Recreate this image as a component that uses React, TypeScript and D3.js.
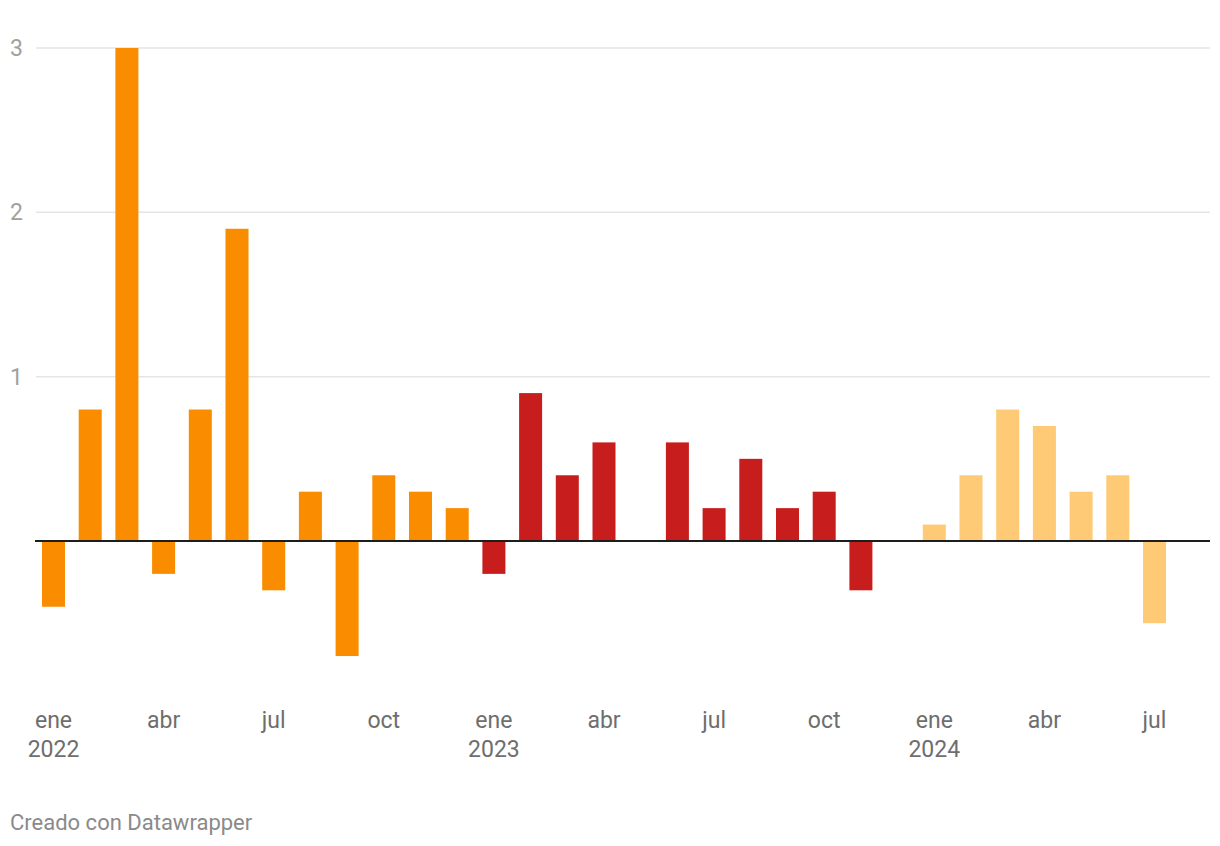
import React from "react";
import * as d3 from "d3";

const months = [
  "2022-01","2022-02","2022-03","2022-04","2022-05","2022-06","2022-07","2022-08","2022-09","2022-10","2022-11","2022-12",
  "2023-01","2023-02","2023-03","2023-04","2023-05","2023-06","2023-07","2023-08","2023-09","2023-10","2023-11","2023-12",
  "2024-01","2024-02","2024-03","2024-04","2024-05","2024-06","2024-07",
];
const values = [
  -0.4, 0.8, 3.0, -0.2, 0.8, 1.9, -0.3, 0.3, -0.7, 0.4, 0.3, 0.2,
  -0.2, 0.9, 0.4, 0.6, 0.0, 0.6, 0.2, 0.5, 0.2, 0.3, -0.3, 0.0,
  0.1, 0.4, 0.8, 0.7, 0.3, 0.4, -0.5,
];
const yearColors: Record<string, string> = { "2022": "#fa8c00", "2023": "#c71e1d", "2024": "#ffca76" };
const monthNames = ["ene","feb","mar","abr","may","jun","jul","ago","sep","oct","nov","dic"];
const labelMonths = [0, 3, 6, 9];
const yTicks = [1, 2, 3];

const W = 1220, H = 846;

export default function App() {
  const x = d3.scaleBand<string>().domain(months).range([35.15, 1172.85]).paddingInner(0.373).paddingOuter(0.1865);
  const y = d3.scaleLinear().domain([0, 3]).range([541, 48]);
  const font = "Roboto, sans-serif";
  return (
    <svg width={W} height={H} style={{ position: "absolute", left: 0, top: 0 }} fontFamily={font}>
      <rect width={W} height={H} fill="#fff" />
      {yTicks.map(t => (
        <g key={t}>
          <line x1={36} x2={1210} y1={y(t)} y2={y(t)} stroke="#e5e5e5" strokeWidth={1.5} />
          <text x={10} y={y(t)} dy="0.35em" fontSize={23} fill="#a0a0a0">{t}</text>
        </g>
      ))}
      {months.map((m, i) => {
        const v = values[i];
        const yr = m.slice(0, 4);
        return (
          <rect key={m} x={x(m)} width={x.bandwidth()} y={y(Math.max(0, v))} height={Math.abs(y(v) - y(0))} fill={yearColors[yr]} />
        );
      })}
      <line x1={35} x2={1210} y1={y(0)} y2={y(0)} stroke="#1d1d1d" strokeWidth={2} />
      {months.map((m) => {
        const mi = +m.slice(5) - 1;
        if (!labelMonths.includes(mi)) return null;
        const cx = (x(m) as number) + x.bandwidth() / 2;
        return (
          <g key={"l" + m}>
            <text x={cx} y={728} textAnchor="middle" fontSize={23} fill="#6e6e6e">{monthNames[mi]}</text>
            {mi === 0 && <text x={cx} y={757} textAnchor="middle" fontSize={23} fill="#6e6e6e">{m.slice(0, 4)}</text>}
          </g>
        );
      })}
      <text x={10} y={830} fontSize={22} fill="#8a8a8a">Creado con Datawrapper</text>
    </svg>
  );
}
